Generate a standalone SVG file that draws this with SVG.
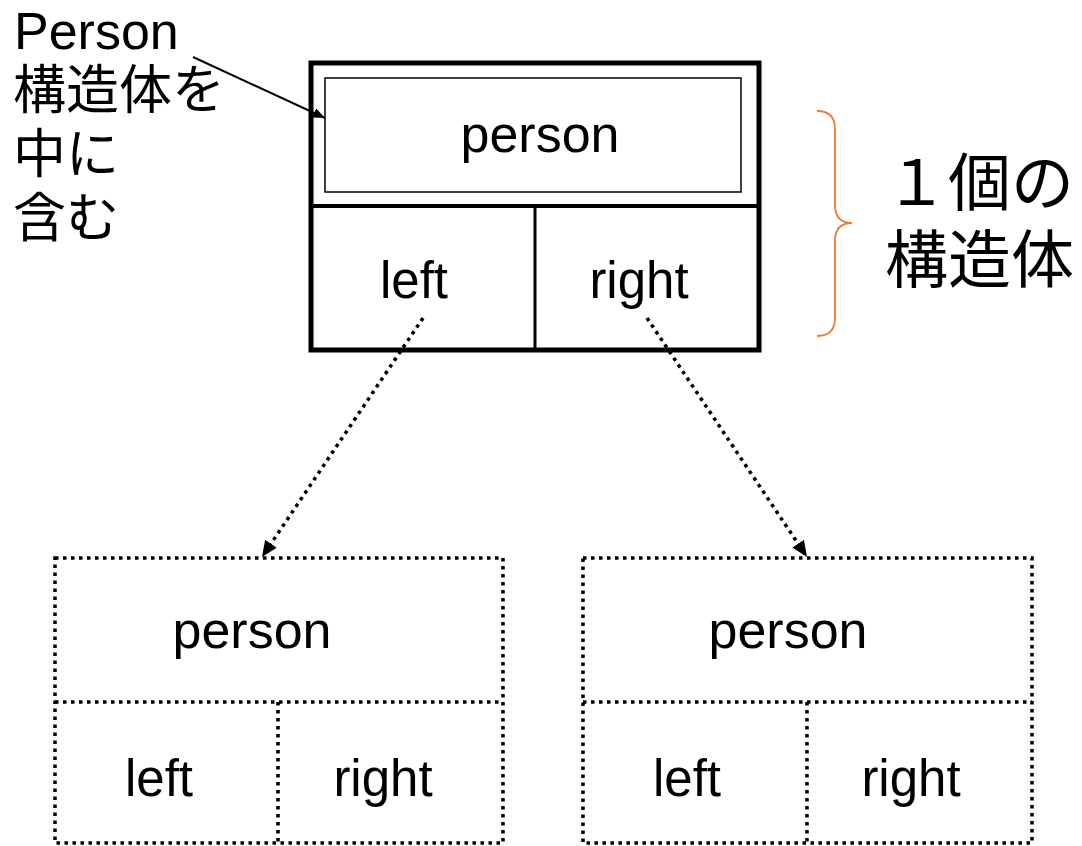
<svg xmlns="http://www.w3.org/2000/svg" width="1082" height="846" viewBox="0 0 1082 846">
<defs>
<style>
.lat{font-family:"Liberation Sans",Arial,sans-serif;fill:#000}
.jp{font-family:"Noto Sans CJK JP","Noto Sans",sans-serif;fill:#000}
.dot{fill:none;stroke:#000;stroke-width:3.5;stroke-dasharray:3.5 4.5}
</style>
<marker id="ah" markerUnits="userSpaceOnUse" markerWidth="20" markerHeight="20" refX="16" refY="7" orient="auto">
<path d="M0,0 L16,7 L0,14 Z" fill="#000"/>
</marker>
<marker id="ah2" markerUnits="userSpaceOnUse" markerWidth="14" markerHeight="12" refX="12" refY="5" orient="auto">
<path d="M0,0 L12,5 L0,10 Z" fill="#000"/>
</marker>
</defs>
<rect width="1082" height="846" fill="#fff"/>

<g id="label-person">
<text class="lat" x="14" y="49" font-size="52">Person</text>
<text class="jp" x="13" y="109" font-size="53">構造体を</text>
<text class="jp" x="13" y="173" font-size="53">中に</text>
<text class="jp" x="13" y="237" font-size="53">含む</text>
</g>

<g id="top-struct">
<rect x="311" y="63" width="448" height="287" fill="none" stroke="#000" stroke-width="5"/>
<line x1="311" y1="206" x2="759" y2="206" stroke="#000" stroke-width="4"/>
<line x1="535" y1="206" x2="535" y2="350" stroke="#000" stroke-width="3"/>
<rect x="325" y="78" width="416" height="114" fill="none" stroke="#000" stroke-width="1.5"/>
<text class="lat" x="540" y="152" font-size="52" text-anchor="middle">person</text>
<text class="lat" x="414" y="298" font-size="51" text-anchor="middle">left</text>
<text class="lat" x="639" y="298" font-size="51" text-anchor="middle">right</text>
</g>

<g id="brace-label">
<path d="M817,111 Q835,111 835,129 V205 Q835,223 852,223 Q835,223 835,241 V318 Q835,336 817,336" fill="none" stroke="#ED7D31" stroke-width="1.8"/>
<text class="jp" x="885" y="205" font-size="63">１個の</text>
<text class="jp" x="885" y="282" font-size="63">構造体</text>
</g>

<g id="struct-left">
<rect x="55" y="558" width="448" height="285" class="dot"/>
<line x1="55" y1="702" x2="503" y2="702" class="dot"/>
<line x1="278" y1="702" x2="278" y2="843" class="dot"/>
<text class="lat" x="252" y="648" font-size="52" text-anchor="middle">person</text>
<text class="lat" x="159" y="796" font-size="51" text-anchor="middle">left</text>
<text class="lat" x="383" y="796" font-size="51" text-anchor="middle">right</text>
</g>

<g id="struct-right">
<rect x="583" y="558" width="449" height="285" class="dot"/>
<line x1="583" y1="702" x2="1032" y2="702" class="dot"/>
<line x1="807" y1="702" x2="807" y2="843" class="dot"/>
<text class="lat" x="788" y="648" font-size="52" text-anchor="middle">person</text>
<text class="lat" x="687" y="796" font-size="51" text-anchor="middle">left</text>
<text class="lat" x="911" y="796" font-size="51" text-anchor="middle">right</text>
</g>

<g id="connectors">
<line x1="193" y1="57" x2="325" y2="118" stroke="#000" stroke-width="2" marker-end="url(#ah2)"/>
<line x1="423" y1="318" x2="262" y2="557" class="dot" marker-end="url(#ah)"/>
<line x1="647" y1="318" x2="807" y2="557" class="dot" marker-end="url(#ah)"/>
</g>
</svg>
